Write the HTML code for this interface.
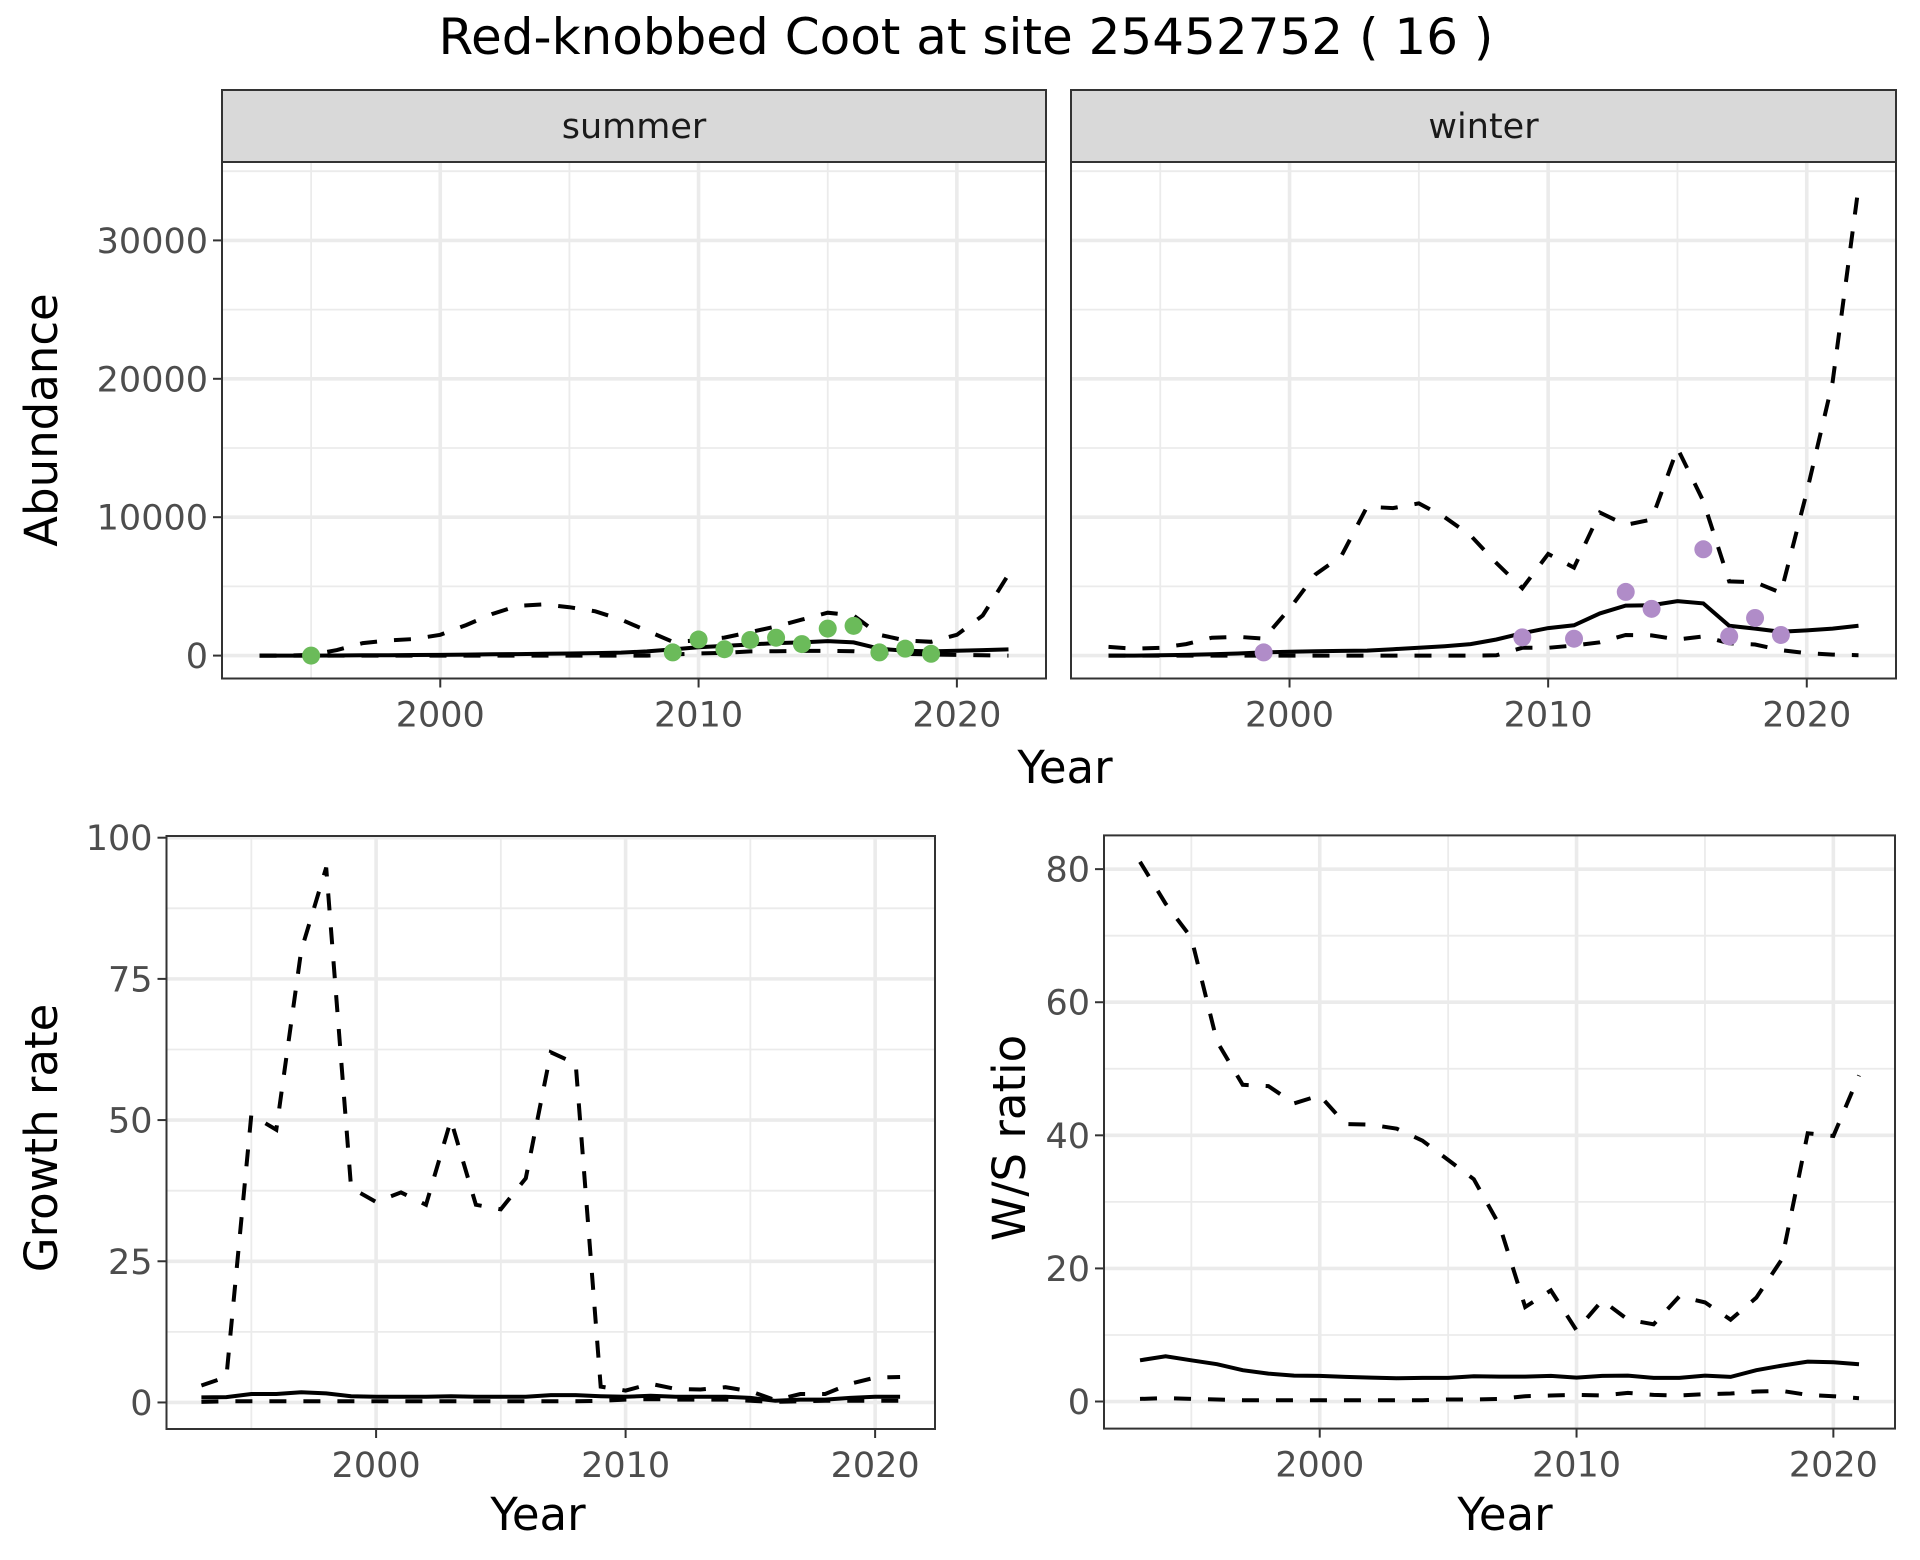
<!DOCTYPE html>
<html><head><meta charset="utf-8"><style>
html,body{margin:0;padding:0;background:#fff}
svg{display:block;font-family:"DejaVu Sans","Liberation Sans",sans-serif}
</style></head><body>
<svg id="chart" width="1920" height="1560" viewBox="0 0 1920 1560" xmlns="http://www.w3.org/2000/svg">
<text x="966" y="54" font-size="50" text-anchor="middle" fill="#000">Red-knobbed Coot at site 25452752 ( 16 )</text>
<g id="layer"></g>
</svg>
<script>
const years = [1993,1994,1995,1996,1997,1998,1999,2000,2001,2002,2003,2004,2005,2006,2007,2008,2009,2010,2011,2012,2013,2014,2015,2016,2017,2018,2019,2020,2021,2022];
const summerUpper = [0,0,50,400,900,1100,1200,1500,2200,3000,3600,3700,3500,3200,2600,1800,1000,1100,1300,1700,2100,2600,3100,2900,1500,1100,1000,1500,2900,5860];
const summerMid = [0,0,0,10,20,30,40,50,70,90,110,130,150,180,220,300,450,600,700,800,900,950,1050,950,500,350,300,350,400,450];
const summerLower = [0,0,0,0,0,0,0,0,0,0,0,0,0,0,0,0,80,150,200,300,320,340,350,320,200,120,80,50,20,0];
const summerPtYears = [1995,2009,2010,2011,2012,2013,2014,2015,2016,2017,2018,2019];
const summerPtVals = [0,230,1160,460,1130,1290,830,1950,2150,230,500,130];
const winterUpper = [630,500,560,830,1290,1360,1230,3380,5860,7190,10760,10660,11000,10000,8680,6690,4870,7350,6360,10330,9440,9830,14970,11160,5360,5300,4540,11820,19770,33840];
const winterMid = [0,0,20,50,100,150,230,280,320,340,360,460,560,680,830,1160,1620,1990,2190,3050,3610,3640,3940,3770,2150,1950,1720,1820,1950,2150];
const winterLower = [0,0,0,0,0,0,0,0,0,0,0,0,0,0,0,20,560,560,730,960,1490,1460,1160,1390,890,800,400,170,70,30];
const winterPtYears = [1999,2009,2011,2013,2014,2016,2017,2018,2019];
const winterPtVals = [230,1320,1220,4600,3380,7680,1390,2720,1490];
const rateYears = [1993,1994,1995,1996,1997,1998,1999,2000,2001,2002,2003,2004,2005,2006,2007,2008,2009,2010,2011,2012,2013,2014,2015,2016,2017,2018,2019,2020,2021];
const growthUpper = [3.0,4.5,50.9,48.3,80,94.7,38,35.5,37.2,35,50,35,34.2,39.7,62,60,2.8,2.1,3.3,2.4,2.3,2.7,2.0,0.4,1.5,1.5,3.3,4.4,4.5];
const growthMid = [0.9,0.95,1.5,1.5,1.8,1.6,1.1,1.0,1.0,1.0,1.1,1.0,1.0,1.0,1.3,1.3,1.1,1.0,1.2,1.0,1.0,1.0,0.8,0.3,0.5,0.5,0.8,1.0,1.0];
const growthLower = [0.1,0.2,0.2,0.2,0.2,0.2,0.2,0.2,0.2,0.2,0.2,0.2,0.2,0.2,0.2,0.2,0.3,0.5,0.6,0.5,0.5,0.5,0.3,0.1,0.2,0.3,0.3,0.3,0.3];
const ratioUpper = [81.1,74.8,69.7,54.1,47.6,47.4,44.8,46,41.7,41.6,41,39.2,36.3,33.4,26.5,14.2,16.7,10.7,15.2,12.3,11.6,15.8,14.9,12.3,15.6,21.4,40.3,39.9,49];
const ratioMid = [6.2,6.8,6.2,5.6,4.7,4.2,3.9,3.85,3.7,3.6,3.5,3.55,3.55,3.8,3.75,3.75,3.85,3.6,3.85,3.9,3.55,3.55,3.9,3.7,4.7,5.4,6.0,5.9,5.6];
const ratioLower = [0.4,0.5,0.4,0.3,0.2,0.2,0.2,0.2,0.2,0.2,0.2,0.2,0.3,0.3,0.4,0.8,0.9,1.0,0.9,1.3,1.0,0.9,1.1,1.2,1.5,1.6,1.0,0.8,0.5];
const xTicks = [2000,2010,2020];
const xMinor = [1995,2005,2015];
const abTicks = [0,10000,20000,30000];
const abMinor = [5000,15000,25000,35000];
const grTicks = [0,25,50,75,100];
const grMinor = [12.5,37.5,62.5,87.5];
const wsTicks = [0,20,40,60,80];
const wsMinor = [10,30,50,70];

const NS = "http://www.w3.org/2000/svg";
const layer = document.getElementById('layer');
function mk(tag, attrs, parent){
  const e = document.createElementNS(NS, tag);
  for (const k in attrs) e.setAttribute(k, attrs[k]);
  (parent||layer).appendChild(e);
  return e;
}
function lin(d0,d1,r0,r1){ return v => r0 + (v-d0)/(d1-d0)*(r1-r0); }

function panel(p){
  const g = mk('g', {});
  
  
  const X = lin(p.xd[0], p.xd[1], p.L, p.R);
  const Y = lin(p.yd[0], p.yd[1], p.B, p.T);
  mk('rect', {x:p.L, y:p.T, width:p.R-p.L, height:p.B-p.T, fill:'#fff'}, g);
  p.yMinor.forEach(v => { const l = mk('line', {x1:p.L, x2:p.R, y1:Y(v), y2:Y(v), stroke:'#EBEBEB', 'stroke-width':1.8}, g);
      });
  xMinor.forEach(v => { const l = mk('line', {x1:X(v), x2:X(v), y1:p.T, y2:p.B, stroke:'#EBEBEB', 'stroke-width':1.8}, g);
      });
  p.yTicks.forEach(v => { const l = mk('line', {x1:p.L, x2:p.R, y1:Y(v), y2:Y(v), stroke:'#EBEBEB', 'stroke-width':3.6}, g);
      });
  xTicks.forEach(v => { const l = mk('line', {x1:X(v), x2:X(v), y1:p.T, y2:p.B, stroke:'#EBEBEB', 'stroke-width':3.6}, g);
      });
  const series = [[p.lower, true], [p.upper, true], [p.mid, false]];
  series.forEach(([vals, dashed], i) => {
    const d = vals.map((v,j) => (j?'L':'M') + X(p.xs[j]).toFixed(1) + ',' + Y(v).toFixed(1)).join(' ');
    const path = mk('path', {d:d, fill:'none', stroke:'#000', 'stroke-width':4, 'stroke-dasharray': dashed ? '17 17' : 'none'}, g);
    
    
  });
  if (p.ptX) p.ptX.forEach((yr,i) => {
    const c = mk('circle', {cx:X(yr), cy:Y(p.ptV[i]), r:9, fill:p.ptColor}, g);
    
    
  });
  mk('rect', {x:p.L, y:p.T, width:p.R-p.L, height:p.B-p.T, fill:'none', stroke:'#333', 'stroke-width':2}, g);
  if (p.strip) {
    const s = mk('rect', {x:p.L, y:p.strip.top, width:p.R-p.L, height:p.T-p.strip.top, fill:'#D9D9D9', stroke:'#333', 'stroke-width':2}, g);
     
    const t = mk('text', {x:(p.L+p.R)/2, y:(p.strip.top+p.T)/2+12, 'font-size':35, 'text-anchor':'middle', fill:'#1A1A1A'}, g);
    t.textContent = p.strip.label;
     
  }
  xTicks.forEach(v => {
    mk('line', {x1:X(v), x2:X(v), y1:p.B, y2:p.B+9, stroke:'#333', 'stroke-width':2}, g);
    const t = mk('text', {x:X(v), y:p.B+48, 'font-size':35, 'text-anchor':'middle', fill:'#4D4D4D'}, g);
    t.textContent = v;
     
  });
  if (p.yLabels) p.yTicks.forEach(v => {
    mk('line', {x1:p.L-9, x2:p.L, y1:Y(v), y2:Y(v), stroke:'#333', 'stroke-width':2}, g);
    const t = mk('text', {x:p.L-14, y:Y(v)+12.5, 'font-size':35, 'text-anchor':'end', fill:'#4D4D4D'}, g);
    t.textContent = v;
     
  });
  if (p.yTitle) {
    const t = mk('text', {x:0, y:0, 'font-size':45, 'text-anchor':'middle', fill:'#000', transform:`translate(${p.yTitle[0]},${p.yTitle[1]}) rotate(-90)`}, g);
    t.textContent = p.yTitle[2];
     
  }
  if (p.xTitle) {
    const t = mk('text', {x:p.xTitle[0], y:p.xTitle[1], 'font-size':45, 'text-anchor':'middle', fill:'#000'}, g);
    t.textContent = 'Year';
     
  }
}

const abY = [-1655, 35665];
const yrD = [1991.55, 2023.45];
panel({name:'summer-panel', L:222, R:1046, T:162, B:678.5, xd:yrD, yd:abY, xs:years,
  upper:summerUpper, mid:summerMid, lower:summerLower, ptX:summerPtYears, ptV:summerPtVals, ptColor:'#6BBB5A',
  yTicks:abTicks, yMinor:abMinor, yLabels:true, strip:{top:90,label:'summer'}, yTitle:[57,420,'Abundance']});
panel({name:'winter-panel', L:1071, R:1896, T:162, B:678.5, xd:yrD, yd:abY, xs:years,
  upper:winterUpper, mid:winterMid, lower:winterLower, ptX:winterPtYears, ptV:winterPtVals, ptColor:'#B08CC8',
  yTicks:abTicks, yMinor:abMinor, yLabels:false, strip:{top:90,label:'winter'}});
const yt = mk('text', {x:1065, y:783, 'font-size':45, 'text-anchor':'middle', fill:'#000'});
yt.textContent = 'Year';


panel({name:'growth-rate-panel', L:166.5, R:935, T:836, B:1429, xd:[1991.6,2022.4], yd:[-4.7,100.3], xs:rateYears,
  upper:growthUpper, mid:growthMid, lower:growthLower,
  yTicks:grTicks, yMinor:grMinor, yLabels:true, yTitle:[57,1138,'Growth rate'], xTitle:[538,1530]});
panel({name:'ws-ratio-panel', L:1104, R:1895, T:835.4, B:1428.6, xd:[1991.6,2022.4], yd:[-4.07,85.07], xs:rateYears,
  upper:ratioUpper, mid:ratioMid, lower:ratioLower,
  yTicks:wsTicks, yMinor:wsMinor, yLabels:true, yTitle:[1025,1138,'W/S ratio'], xTitle:[1505,1530]});
</script>
</body></html>
